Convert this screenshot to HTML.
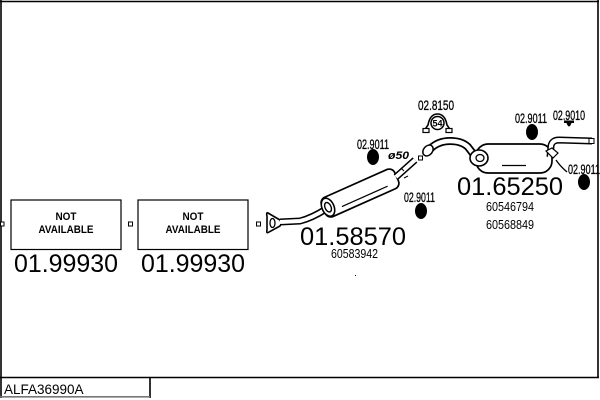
<!DOCTYPE html>
<html><head><meta charset="utf-8"><style>
html,body{margin:0;padding:0;background:#fff;}
svg{display:block;}
text{font-family:"Liberation Sans",sans-serif;fill:#000;}
</style></head><body>
<svg width="600" height="400" viewBox="0 0 600 400" xmlns="http://www.w3.org/2000/svg">
<!-- frame -->
<line x1="0" y1="1.5" x2="599" y2="1.5" stroke="#000" stroke-width="1.6"/>
<line x1="1" y1="0" x2="1" y2="398" stroke="#000" stroke-width="1.6"/>
<line x1="598" y1="0" x2="598" y2="377.5" stroke="#000" stroke-width="1.6"/>
<line x1="0" y1="377.5" x2="599" y2="377.5" stroke="#000" stroke-width="1.4"/>
<line x1="150" y1="377" x2="150" y2="398" stroke="#000" stroke-width="1.6"/>
<line x1="0" y1="396.8" x2="150" y2="396.8" stroke="#777" stroke-width="1.6"/>
<text x="4" y="394" font-size="13.5">ALFA36990A</text>

<!-- small squares -->
<rect x="0.5" y="222" width="3.5" height="4" fill="#fff" stroke="#000" stroke-width="1"/>
<rect x="128.5" y="222" width="4" height="4" fill="#fff" stroke="#000" stroke-width="1"/>
<rect x="256.5" y="222" width="4" height="4" fill="#fff" stroke="#000" stroke-width="1"/>

<!-- NOT AVAILABLE boxes -->
<rect x="11" y="200" width="110" height="49.5" fill="#fff" stroke="#000" stroke-width="1.2"/>
<text x="66" y="220" font-size="11" font-weight="bold" text-anchor="middle" textLength="21" lengthAdjust="spacingAndGlyphs">NOT</text>
<text x="66" y="233" font-size="11" font-weight="bold" text-anchor="middle" textLength="55" lengthAdjust="spacingAndGlyphs">AVAILABLE</text>
<rect x="138" y="200" width="110" height="49.5" fill="#fff" stroke="#000" stroke-width="1.2"/>
<text x="193" y="220" font-size="11" font-weight="bold" text-anchor="middle" textLength="21" lengthAdjust="spacingAndGlyphs">NOT</text>
<text x="193" y="233" font-size="11" font-weight="bold" text-anchor="middle" textLength="55" lengthAdjust="spacingAndGlyphs">AVAILABLE</text>
<text x="14" y="272" font-size="25" textLength="104" lengthAdjust="spacingAndGlyphs">01.99930</text>
<text x="141" y="272" font-size="25" textLength="104" lengthAdjust="spacingAndGlyphs">01.99930</text>

<!-- flange -->
<path d="M268,213 Q266,212 267,216 L267,230 Q266,234 269,232 L280,226 Q282,223 280,220 Z" fill="#fff" stroke="#000" stroke-width="1.6"/>
<ellipse cx="272.5" cy="223" rx="2.5" ry="4.5" fill="#fff" stroke="#000" stroke-width="1.3"/>

<!-- front pipe -->
<path d="M280,222 L300,221 Q312,218 326,209" fill="none" stroke="#000" stroke-width="7"/>
<path d="M280,222 L300,221 Q312,218 326,209" fill="none" stroke="#fff" stroke-width="4"/>

<!-- front silencer -->
<g transform="translate(360,193) rotate(-24)">
<rect x="-40" y="-10.5" width="80" height="21" rx="6" fill="#fff" stroke="#000" stroke-width="1.7"/>
<ellipse cx="-35" cy="0" rx="6" ry="9.5" fill="#fff" stroke="#000" stroke-width="1.6"/>
<ellipse cx="-35" cy="0" rx="3" ry="5" fill="#fff" stroke="#000" stroke-width="1.4"/>
<line x1="-22" y1="5" x2="28" y2="5" stroke="#000" stroke-width="1.2"/>
</g>

<!-- pipe to coupling -->
<path d="M396,177 L415,160" fill="none" stroke="#000" stroke-width="7"/>
<path d="M396,177 L415,160" fill="none" stroke="#fff" stroke-width="4"/>
<line x1="401" y1="168" x2="404" y2="171" stroke="#000" stroke-width="1"/>
<line x1="404" y1="178" x2="408" y2="176" stroke="#000" stroke-width="1"/>
<rect x="418.5" y="156" width="4" height="4" fill="#fff" stroke="#000" stroke-width="1"/>
<text x="388" y="159" font-size="11" font-weight="bold" font-style="italic" textLength="21" lengthAdjust="spacingAndGlyphs">ø50</text>

<!-- intermediate pipe -->
<path d="M430,149 Q438,141 450,141 Q462,141 468,147 Q472,152 476,158" fill="none" stroke="#000" stroke-width="8"/>
<path d="M430,149 Q438,141 450,141 Q462,141 468,147 Q472,152 476,158" fill="none" stroke="#fff" stroke-width="4.5"/>
<ellipse cx="428" cy="150.5" rx="4.5" ry="6" transform="rotate(40 428 150.5)" fill="#fff" stroke="#000" stroke-width="1.5"/>

<!-- rear silencer -->
<rect x="476" y="144" width="76" height="29" rx="12" fill="#fff" stroke="#000" stroke-width="1.7"/>
<ellipse cx="479" cy="158" rx="9" ry="8" fill="#fff" stroke="#000" stroke-width="1.6"/>
<ellipse cx="480" cy="158" rx="4" ry="3.5" fill="#fff" stroke="#000" stroke-width="1.3"/>
<line x1="502" y1="165.5" x2="526" y2="165.5" stroke="#000" stroke-width="1.2"/>

<!-- tailpipe -->
<path d="M550,157 L551,146 Q552,140 559,140 L592,141" fill="none" stroke="#000" stroke-width="7"/>
<path d="M550,157 L551,146 Q552,140 559,140 L592,141" fill="none" stroke="#fff" stroke-width="4"/>
<rect x="589" y="138.5" width="5" height="5" fill="#fff" stroke="#000" stroke-width="1"/>
<path d="M546,151 L552,148 L558,153 L553,158 Z" fill="#fff" stroke="#000" stroke-width="1.2"/>
<path d="M556,160 Q560,166 567,172" fill="none" stroke="#000" stroke-width="1.3"/>

<!-- clamp 54 -->
<path d="M424,131 L428,125 Q430,114 437.5,114 Q445,114 447,125 L451,131" fill="#fff" stroke="#000" stroke-width="1.6"/>
<rect x="423" y="128.5" width="6" height="4" fill="#fff" stroke="#000" stroke-width="1.2"/>
<rect x="446" y="128.5" width="6" height="4" fill="#fff" stroke="#000" stroke-width="1.2"/>
<circle cx="437.5" cy="123" r="6.5" fill="#fff" stroke="#000" stroke-width="1.5"/>
<text x="437.5" y="126.5" font-size="9" font-weight="bold" text-anchor="middle">54</text>

<!-- hanger 02.9010 -->
<path d="M564,120.5 L574,120.5 L574,123 L571.5,123 Q569,130 566.5,123 L564,123 Z" fill="#000"/>

<!-- rubber mounts -->
<ellipse cx="373" cy="157" rx="6" ry="8" fill="#000"/>
<ellipse cx="421" cy="211" rx="6" ry="8" fill="#000"/>
<ellipse cx="532" cy="132" rx="6" ry="8" fill="#000"/>
<ellipse cx="584" cy="182" rx="6" ry="8" fill="#000"/>

<!-- part labels -->
<g stroke="#000" stroke-width="0.3">
<text x="418" y="110" font-size="14" textLength="36" lengthAdjust="spacingAndGlyphs">02.8150</text>
<text x="357" y="149" font-size="14" textLength="32" lengthAdjust="spacingAndGlyphs">02.9011</text>
<text x="404" y="202" font-size="14" textLength="31" lengthAdjust="spacingAndGlyphs">02.9011</text>
<text x="515" y="123" font-size="14" textLength="32" lengthAdjust="spacingAndGlyphs">02.9011</text>
<text x="553" y="120" font-size="14" textLength="32" lengthAdjust="spacingAndGlyphs">02.9010</text>
<text x="568" y="174" font-size="14" textLength="32" lengthAdjust="spacingAndGlyphs">02.9011</text>
</g>

<!-- main numbers -->
<text x="300" y="245" font-size="25" textLength="106" lengthAdjust="spacingAndGlyphs">01.58570</text>
<text x="331" y="258" font-size="12.5" textLength="47" lengthAdjust="spacingAndGlyphs">60583942</text>
<text x="457" y="195" font-size="25" textLength="106" lengthAdjust="spacingAndGlyphs">01.65250</text>
<text x="486" y="211" font-size="12.5" textLength="48" lengthAdjust="spacingAndGlyphs">60546794</text>
<text x="486" y="229" font-size="12.5" textLength="48" lengthAdjust="spacingAndGlyphs">60568849</text>

<rect x="355" y="275" width="1" height="1" fill="#000"/>
</svg>
</body></html>
